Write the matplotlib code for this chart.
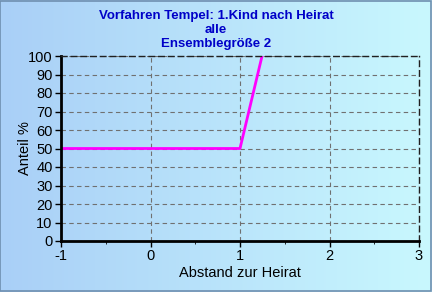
import matplotlib
matplotlib.use("Agg")
import matplotlib.pyplot as plt
import numpy as np
from matplotlib.colors import LinearSegmentedColormap

plt.rcParams['font.family'] = ['Liberation Sans', 'DejaVu Sans']
plt.rcParams['axes.unicode_minus'] = False

x_vals = [-1, 0, 1, 2]
y_vals = [50, 50, 50, 253]
title_lines = ["Vorfahren Tempel: 1.Kind nach Heirat", "alle", "Ensemblegröße 2"]
x_ticks = [-1, 0, 1, 2, 3]
y_ticks = list(range(0, 101, 10))

fig = plt.figure(figsize=(4.32, 2.92), dpi=100)
bg = fig.add_axes([0, 0, 1, 1], zorder=-10)
grad = np.linspace(0, 1, 256).reshape(1, -1)
cmap = LinearSegmentedColormap.from_list("bg", ["#a9cff7", "#c9f8fe"])
bg.imshow(grad, aspect='auto', cmap=cmap, extent=[0, 1, 0, 1])
bg.set_axis_off()
bg.add_patch(plt.Rectangle((0.001, 0.002), 0.997, 0.995, fill=False, edgecolor="#6f8fb0", lw=1.2, transform=bg.transAxes))

ax = fig.add_axes([61/432, 1 - 241/292, (419-61)/432, (241-56)/292])
ax.patch.set_alpha(0)
ax.plot(x_vals, y_vals, color="#ff00ff", lw=2, clip_on=True)
ax.set_xlim(-1, 3)
ax.set_ylim(0, 100)
ax.set_xticks(x_ticks)
ax.set_yticks(y_ticks)
ax.set_xticks([-0.5, 0.5, 1.5, 2.5], minor=True)
ax.grid(True, which='major', linestyle=(0, (4, 3)), color="#707070", lw=0.8)
for s in ['left', 'bottom']:
    ax.spines[s].set_linewidth(2)
    ax.spines[s].set_color('black')
for s in ['top', 'right']:
    ax.spines[s].set_linestyle((0, (4, 3)))
    ax.spines[s].set_linewidth(1)
    ax.spines[s].set_color('#202020')
ax.tick_params(axis='both', labelsize=10.5, length=4, width=1, colors='black', pad=2)
ax.tick_params(axis='x', which='minor', length=2)
ax.set_xlabel("Abstand zur Heirat", fontsize=10.5, labelpad=2)
ax.set_ylabel("Anteil %", fontsize=10.5, labelpad=-2.5)

for i, t in enumerate(title_lines):
    fig.text(0.5, 1 - (16 + 14 * i)/292, t, ha='center', va='center', fontsize=9.5,
             fontweight='bold', color='#0000c8')

fig.savefig("out.png", dpi=100)
